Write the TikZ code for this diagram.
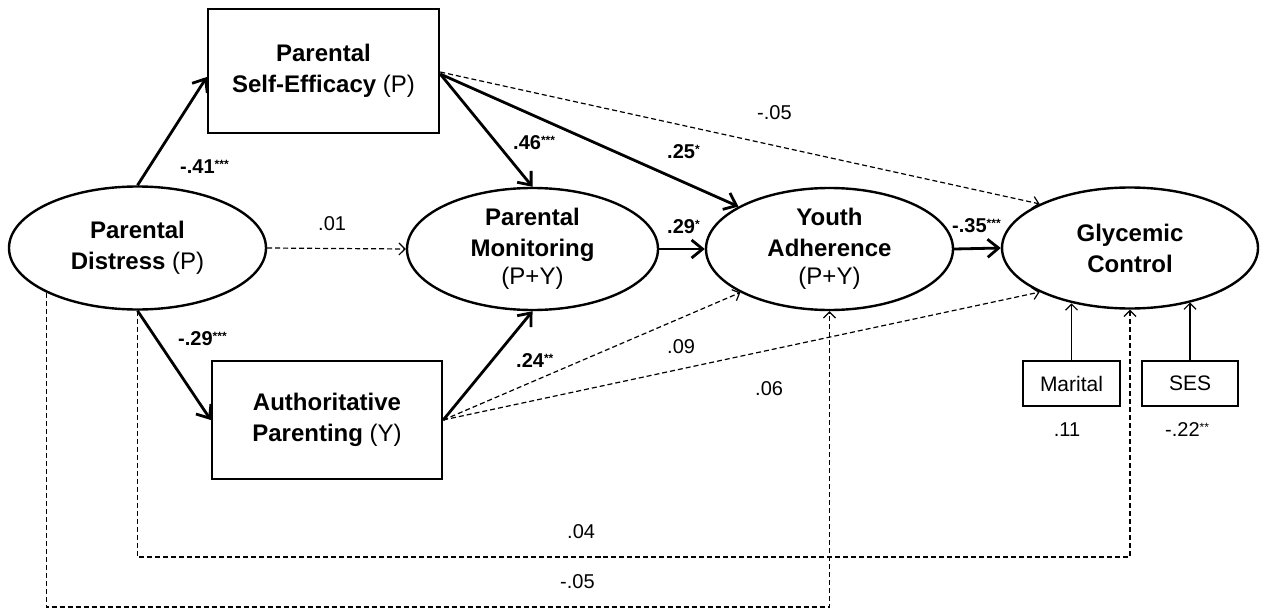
\documentclass[tikz,border=0pt]{standalone}
\usepackage{fontspec}
\setmainfont{Liberation Sans}
\usetikzlibrary{arrows.meta,shapes.geometric,calc}
\newcommand\sigst[1]{\raisebox{5pt}{\fontsize{12}{12}\selectfont #1}}
\begin{document}
\begin{tikzpicture}[x=1pt,y=-1pt,
  ell/.style={ellipse,draw,line width=2.4pt,inner sep=0pt},
  bx/.style={rectangle,draw,line width=2.4pt,inner sep=0pt,align=center,font=\fontsize{24}{31}\selectfont},
  txt/.style={inner sep=0pt,align=center,font=\fontsize{24}{31}\selectfont},
  sbx/.style={rectangle,draw,line width=1.2pt,inner sep=0pt,font=\fontsize{21}{25}\selectfont},
  sarr/.style={line width=2.8pt,-{Straight Barb[length=11pt,width=18pt]}},
  darr/.style={line width=1.2pt,dash pattern=on 5pt off 3pt,-{Straight Barb[length=6pt,width=12pt]}},
  tarr/.style={line width=1.2pt,-{Straight Barb[length=6pt,width=12pt]}},
  lab/.style={anchor=base west,inner sep=0pt,font=\fontsize{20}{24}\selectfont},
  blab/.style={anchor=base west,inner sep=0pt,font=\fontsize{20}{24}\selectfont\bfseries},
]
\useasboundingbox (0,0) rectangle (1267,610);

% nodes
\node[ell,minimum width=257pt,minimum height=123pt] (dist) at (137.5,248) {};
\node[txt] (distT) at (dist.center) {\textbf{Parental}\\\textbf{Distress} (P)};
\node[bx,minimum width=231pt,minimum height=124pt] (se) at (323.5,71) {\textbf{Parental}\\\textbf{Self-Efficacy} (P)};
\node[bx,minimum width=230pt,minimum height=118pt] (ap) at (327,420) {\textbf{Authoritative}\\\textbf{Parenting} (Y)};
\node[ell,minimum width=251pt,minimum height=122pt] (mon) at (532.5,249) {};
\node[txt] (monT) at (mon.center) {\textbf{Parental}\\\textbf{Monitoring}\\[-3pt](P+Y)};
\node[ell,minimum width=247pt,minimum height=122pt] (you) at (829.5,249) {};
\node[txt] (youT) at (you.center) {\textbf{Youth}\\\textbf{Adherence}\\[-3pt](P+Y)};
\node[ell,minimum width=256pt,minimum height=121pt] (gly) at (1130,248) {};
\node[txt] (glyT) at (gly.center) {\textbf{Glycemic}\\\textbf{Control}};
\node[sbx,minimum width=97pt,minimum height=45pt] (mar) at (1071.5,383.5) {Marital};
\node[sbx,minimum width=96pt,minimum height=45pt] (ses) at (1190,383.5) {SES};

% connectors
\draw[sarr] (dist.north) -- ([yshift=-6pt]se.west);
\draw[sarr] ([yshift=-3pt]se.east) -- (mon.north);
\draw[sarr] ([yshift=-3pt]se.east) -- (you.155);
\draw[darr] ([yshift=-1pt]se.east) -- (gly.154);
\draw[darr] (dist.east) -- (mon.west);
\draw[sarr] (mon.east) -- (you.west);
\draw[sarr] (you.east) -- (gly.west);
\draw[sarr] (dist.south) -- (ap.west);
\draw[sarr] (ap.east) -- (mon.south);
\draw[darr] (ap.east) -- (you.206);
\draw[darr] (ap.east) -- (gly.206);
\coordinate (b1) at (600,557);
\coordinate (b2) at (600,607);
\draw[darr] (dist.south) |- (b1) -| (gly.south);
\draw[darr] (dist.206) |- (b2) -| (you.south);
\draw[tarr] (mar.north) -- (mar.north |- gly.224);
\draw[tarr] (ses.north) -- (ses.north |- gly.318);

% labels
\node[blab] (l1) at (180,173) {-.41\sigst{***}};
\node[lab] (l2) at (318,230) {.01};
\node[blab] (l3) at (513,149) {.46\sigst{***}};
\node[blab] (l4) at (667,158) {.25\sigst{*}};
\node[lab] (l5) at (757,119) {-.05};
\node[blab] (l6) at (667,233) {.29\sigst{*}};
\node[blab] (l7) at (952,232) {-.35\sigst{***}};
\node[lab] (l8) at (667,353) {.09};
\node[lab] (l9) at (755,395) {.06};
\node[blab] (l10) at (516,367) {.24\sigst{**}};
\node[blab] (l11) at (178,345) {-.29\sigst{***}};
\node[lab] (l12) at (567,538) {.04};
\node[lab] (l13) at (560,588) {-.05};
\node[lab,anchor=base] (l14) at (1067,436) {.11};
\node[lab] (l15) at (1165,436) {-.22\sigst{**}};
\end{tikzpicture}
\end{document}
